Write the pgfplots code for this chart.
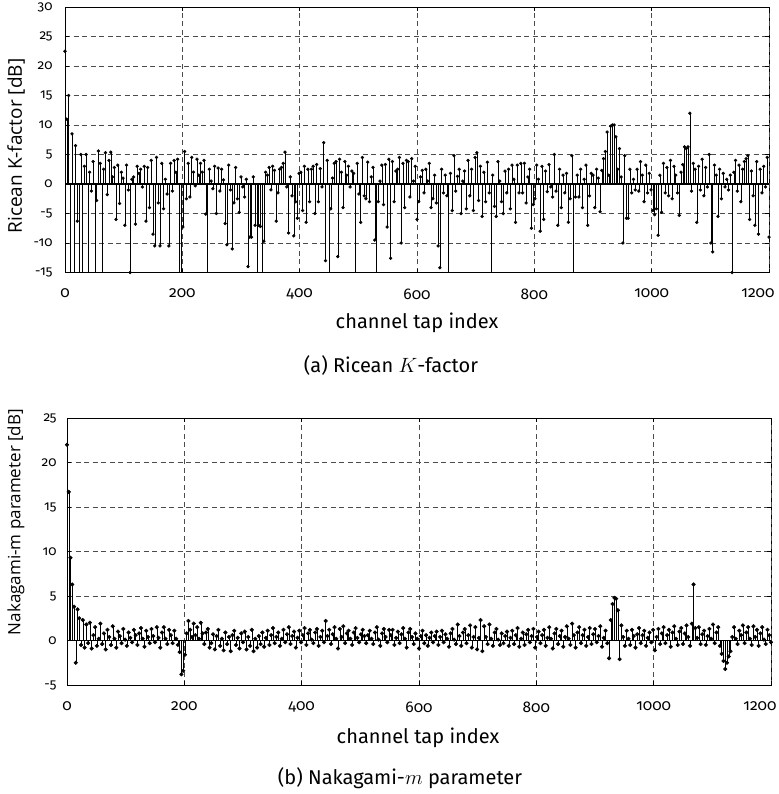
\documentclass[border=0pt]{standalone}
\usepackage{fontspec}
\setmainfont{Fira Sans}
\newfontfamily\tickfont{Fira Sans}[Numbers=OldStyle]
\newfontfamily\labfont{Open Sans}
\usepackage{pgfplots}
\pgfplotsset{compat=1.18}
\usepackage{pgfplotstable}

\pgfplotstableread[row sep=\\]{
y\\
22.5\\ 11\\ 15\\ -20\\ 8.5\\ -20\\ 6.5\\ -6.3\\ -20\\ 5\\
-20\\ 3\\ 5\\ -20\\ 2\\ -1.2\\ 3.8\\ -20\\ -2.8\\ 5.6\\
3.5\\ -20\\ 2.5\\ 5.3\\ -1.8\\ 4\\ 5.4\\ 1.2\\ 2.8\\ -6\\
3.2\\ -3.3\\ 2\\ 1\\ -7\\ 3.2\\ -1\\ -15\\ 0.8\\ 1.2\\
-6.8\\ 3\\ 1.8\\ 2.5\\ -0.5\\ 3\\ -6.3\\ 2.8\\ -4\\ 4\\
-8.5\\ -10.5\\ 4.5\\ -3.2\\ -10.5\\ 3.5\\ -4.2\\ 0.8\\ -1.7\\ -10.5\\
3.5\\ -1.2\\ 4\\ 2\\ 4.2\\ -20\\ -20\\ -7.3\\ 5.5\\ -2.5\\
3.5\\ -2.2\\ 4.5\\ 2\\ -0.3\\ 4.2\\ 1.5\\ 3.5\\ 2\\ 4\\
-5.1\\ -20\\ 2.5\\ 0.5\\ -0.8\\ 3\\ -5\\ 2.7\\ -1.2\\ 2.5\\
0.7\\ -6.7\\ -10.3\\ 3.2\\ -1\\ -11\\ -3.2\\ 2.8\\ -2.5\\ -4.8\\
1.2\\ -0.5\\ -2.2\\ 0.8\\ -14\\ -9\\ -9\\ 1.2\\ -7\\ -20\\
-7\\ -7.2\\ -20\\ -9.7\\ 2\\ 1.5\\ 2.8\\ -1\\ 3\\ 2.3\\
-6.3\\ -1.5\\ 2.5\\ 2.8\\ 3.5\\ 5.4\\ -0.5\\ -8.3\\ 1.2\\ -2\\
-8.8\\ -3\\ -5.8\\ 1.8\\ 2\\ -4.5\\ 3\\ -6.5\\ 2.5\\ -3\\
2.5\\ 3\\ -5\\ 3.3\\ -3\\ 2.6\\ -0.5\\ 7\\ -13\\ 4\\
-20\\ -4.2\\ 1\\ 3.5\\ 3.8\\ -12.3\\ 4.2\\ 2\\ -4\\ 3.8\\
1.5\\ 3\\ -0.5\\ 2.2\\ 1.8\\ -20\\ 3.5\\ -1.7\\ -6.5\\ 4.5\\
-2\\ -2.5\\ 3.7\\ -3\\ 1.2\\ 2.8\\ -9.5\\ -20\\ -3\\ 0.5\\
3.2\\ -3.5\\ 3.3\\ -7.3\\ 4.2\\ -12.6\\ 3.8\\ -3\\ 2.2\\ 2.5\\
4.5\\ -10\\ 3.5\\ -4\\ 4\\ 3.8\\ -2.2\\ 4.3\\ 0.5\\ 3\\
-6\\ -3\\ 1.2\\ 2.3\\ -1.5\\ 2.5\\ 0.5\\ 3.5\\ -4\\ -2.5\\
1.5\\ -3.2\\ -10.5\\ -14.2\\ 2.5\\ -1.5\\ 1.5\\ -2\\ -20\\ 1.8\\
-4.5\\ 4.8\\ -1.2\\ 1.3\\ 2.5\\ -5\\ 0.5\\ 2.2\\ -4.2\\ 4\\
-2\\ 2.5\\ -4.5\\ 4.5\\ 5.3\\ -2.8\\ 3\\ -5.5\\ 2\\ -3\\
3.7\\ -1.5\\ -20\\ 1.5\\ -3.8\\ -5.5\\ 3.8\\ 0.5\\ -3\\ -5\\
2.2\\ -1.5\\ 2.5\\ -4.2\\ 3.2\\ 0.8\\ -6.5\\ 3.2\\ -1.5\\ 3.5\\
-1.5\\ 3.5\\ -3.2\\ 1.2\\ 2.5\\ -7.5\\ -3.5\\ -2.5\\ 3.2\\ 0.8\\
-8\\ 3\\ -6\\ 2.2\\ -1.3\\ 3.3\\ -0.5\\ -2.2\\ 5\\ -1.2\\
-7\\ 2.5\\ -4\\ 1.5\\ -1.5\\ 1.8\\ -6.5\\ -2.5\\ 4.8\\ -20\\
-2.2\\ 1.5\\ -2.2\\ 2.5\\ -4\\ 0.8\\ 3.2\\ -7\\ -2\\ 1.8\\
1.5\\ -4\\ 2.5\\ 1\\ -4.7\\ 2.3\\ 4.3\\ 5.5\\ 8.8\\ 1.5\\
9.8\\ 10\\ 10\\ 8\\ 2.5\\ 6\\ 1.2\\ -10\\ 4.8\\ -5.8\\
-5.8\\ 2.5\\ -1.5\\ 0.8\\ -1\\ 2.5\\ -1.2\\ 3.8\\ 1.5\\ -3\\
3.2\\ -1.5\\ 1.8\\ -1\\ -4.5\\ -5.2\\ -4.2\\ -8.7\\ 1.5\\ -4.8\\
3.5\\ -1.5\\ 2.8\\ -2\\ 4\\ -2.5\\ 3\\ 1.5\\ -1.5\\ -5.3\\
2\\ 3.3\\ 6.3\\ 6\\ 6.3\\ 12\\ -1.2\\ 3.5\\ 2.5\\ -6.5\\
3\\ -1\\ 4.2\\ -2\\ 2.8\\ -0.5\\ 5\\ -10\\ -11.5\\ 3.2\\
1.5\\ -5.5\\ 2.5\\ -2.5\\ 1.8\\ -0.5\\ 0.8\\ -1\\ 1.5\\ -15\\
2\\ 4\\ -1.2\\ 3.2\\ -3\\ 2.5\\ 3.8\\ 4.3\\ 4.8\\ -6\\
2.2\\ -2\\ -7\\ 3.8\\ -8.5\\ 2.5\\ -1.5\\ 3\\ -0.5\\ 4.5\\
-9\\
}\ricean

\pgfplotstableread[row sep=\\]{
y\\
22\\ 16.7\\ 9.3\\ 6.3\\ 3.8\\ -2.5\\ 3.5\\ 2.5\\ -0.5\\ 2.3\\
-0.8\\ 1.8\\ -0.3\\ 2\\ -0.9\\ 0.6\\ 1.5\\ -0.6\\ 0.2\\ 1.9\\
-0.4\\ 0.8\\ -1\\ 1.2\\ 0.4\\ -0.5\\ 1.6\\ 0.2\\ -0.8\\ 1\\
0.5\\ -0.3\\ 1.3\\ 0.1\\ -0.6\\ 0.9\\ 0.3\\ -0.2\\ 1.2\\ 0.6\\
-0.5\\ 0.8\\ 1.4\\ 0.2\\ -0.7\\ 1.1\\ 0.4\\ -0.3\\ 1.3\\ 0.5\\
-0.2\\ 1.5\\ 0.3\\ -0.8\\ 0.9\\ 1.5\\ 0.2\\ -0.4\\ 1.2\\ 0.6\\
-0.3\\ 1.1\\ 0.2\\ -0.5\\ -1.3\\ -3.8\\ -3.4\\ -1.6\\ 0.8\\ 2.2\\
1.2\\ 0.4\\ 1.9\\ 0.6\\ 1.5\\ 0.2\\ 2\\ 0.8\\ -0.4\\ 0.9\\
1.3\\ -0.8\\ -0.3\\ 0.7\\ -1\\ 0.5\\ 1.2\\ -0.6\\ 0.2\\ -1.1\\
0.9\\ -0.4\\ 0.4\\ -1.2\\ 0.6\\ 1.1\\ -0.5\\ 0.3\\ -0.9\\ 0.8\\
-0.2\\ 1\\ -1\\ 0.4\\ -0.6\\ 1.2\\ -1.2\\ 0.2\\ -0.8\\ 0.5\\
-0.4\\ 0.9\\ -0.7\\ 0.3\\ 1.1\\ -0.5\\ 0.6\\ 1.4\\ -0.3\\ 0.4\\
0.9\\ -0.6\\ 0.2\\ 1.2\\ -0.2\\ 0.7\\ 1.5\\ -0.4\\ 0.5\\ 1\\
-0.8\\ 0.3\\ 1.1\\ -0.2\\ 0.6\\ 1.4\\ -0.5\\ 0.8\\ 1.2\\ 0.1\\
-0.3\\ 0.9\\ 1.3\\ -0.6\\ 0.4\\ 1.1\\ -0.2\\ 2.2\\ 0.5\\ 1.2\\
-0.4\\ 0.7\\ 1.5\\ 0.2\\ -0.9\\ 1.3\\ 0.4\\ 1.6\\ -0.3\\ 0.8\\
1.1\\ 0.2\\ -0.5\\ 0.9\\ 1.4\\ 0.3\\ -0.2\\ 0.7\\ 1.2\\ 0.5\\
-0.3\\ 0.6\\ 1.1\\ 0.2\\ -0.4\\ 0.9\\ 1.5\\ 0.1\\ -0.6\\ 0.8\\
1.3\\ 0.4\\ -0.2\\ 1.2\\ 0.6\\ 1.2\\ -0.5\\ 0.3\\ 1\\ -0.3\\
0.7\\ 1.4\\ 0.2\\ -0.8\\ 0.9\\ 1.3\\ 0.4\\ -0.4\\ 0.8\\ 0.2\\
-0.9\\ 0.5\\ 1.1\\ -0.3\\ 0.6\\ -0.6\\ 0.3\\ 0.9\\ -0.2\\ 0.5\\
1\\ -0.5\\ 0.4\\ 1.1\\ -0.2\\ 0.7\\ 0.2\\ -0.7\\ 0.8\\ 1.3\\
0.1\\ -0.4\\ 1.8\\ 0.5\\ -0.6\\ 0.9\\ 1.3\\ -0.3\\ 0.6\\ 1.7\\
-0.8\\ 0.4\\ 1.5\\ -1\\ 0.3\\ 2.3\\ -1.2\\ 1.6\\ 0.4\\ -0.4\\
1.8\\ 0.2\\ -0.6\\ 0.9\\ 1.3\\ 0.1\\ -0.5\\ 0.8\\ -0.3\\ 0.5\\
1\\ -0.6\\ 0.3\\ 1.1\\ -0.4\\ 0.6\\ 1.4\\ -0.7\\ 0.2\\ 0.9\\
-0.5\\ 0.7\\ 1.2\\ -0.2\\ 0.5\\ 1.3\\ -0.8\\ 0.4\\ 1\\ -0.3\\
0.6\\ 1.2\\ -0.6\\ 0.3\\ 1.5\\ 0.2\\ -0.9\\ 0.8\\ 1.3\\ -0.4\\
0.5\\ 1.1\\ -0.7\\ 0.4\\ 1.6\\ 0.2\\ -0.5\\ 1.9\\ 0.6\\ -0.8\\
0.9\\ 1.5\\ -0.3\\ 0.6\\ 1.2\\ -0.6\\ 0.4\\ 1.4\\ -0.4\\ 0.7\\
1.3\\ -0.2\\ 0.5\\ 1.6\\ -0.7\\ 0.3\\ 1.1\\ -0.3\\ -2\\ 2.3\\
4.1\\ 4.8\\ 4.7\\ 3.4\\ -2.1\\ 1.7\\ 0.4\\ -0.6\\ 1.1\\ 0.2\\
-0.5\\ 1.2\\ 0.5\\ -0.8\\ 0.7\\ 1.4\\ -0.3\\ 0.6\\ 1.1\\ -0.6\\
0.3\\ 0.9\\ -0.2\\ 1.2\\ -1.1\\ 0.4\\ 1.3\\ -0.4\\ 0.8\\ 1.5\\
-0.3\\ 0.6\\ 1.2\\ -0.7\\ 0.9\\ 1.6\\ 0.2\\ -0.5\\ 1\\ 1.4\\
-0.4\\ 0.8\\ 1.7\\ 0.4\\ -0.6\\ 1.9\\ 6.3\\ 1.4\\ 0.3\\ 1.5\\
-0.4\\ 0.7\\ 1.1\\ -0.5\\ 0.5\\ 1.3\\ 0.2\\ 1.8\\ -0.3\\ 0.9\\
1.5\\ -0.6\\ -1.5\\ -2.3\\ -3.2\\ -2.5\\ -1.8\\ -1.2\\ 0.4\\ 1.5\\
0.2\\ -0.4\\ 1.1\\ 0.6\\ 1.7\\ -0.3\\ 0.9\\ 1.5\\ 0.2\\ -0.5\\
1.6\\ 0.4\\ 1.2\\ -0.6\\ 0.8\\ 1.5\\ 0.1\\ -0.4\\ 1.2\\ 0.6\\
-0.2\\
}\nakagami

\pgfplotsset{
  stemaxis/.style={
    scale only axis, width=704bp, anchor=south west,
    xmin=0, xmax=1200,
    xtick={0,200,400,600,800,1000}, xticklabels={0,200,400,600,800,1000},
    extra x ticks={1200}, extra x tick labels={1200},
    extra x tick style={xticklabel style={xshift=-11bp}},
    grid=major,
    major grid style={black!70, line width=0.5bp, dash pattern=on 5bp off 3.5bp},
    axis line style={black, line width=0.7bp},
    tick style={black, line width=0.5bp},
    tick align=inside, major tick length=4bp,
    yticklabel style={font=\tickfont\fontsize{13.5bp}{14bp}\selectfont},
    xticklabel style={font=\tickfont\fontsize{15.5bp}{16bp}\selectfont, yshift=-13bp},
    clip=true,
  },
  stemplot/.style={black, line width=0.5bp, ycomb, mark=*,
    mark options={solid, fill=black, draw=black}},
}

\begin{document}
\begin{tikzpicture}
\path[use as bounding box] (0,0) rectangle (779bp,-794bp);

% (a) Ricean K-factor
\begin{axis}[stemaxis, at={(65bp,-272.5bp)}, height=265.5bp,
    ymin=-15, ymax=30, ytick={-15,-10,...,30},
    yticklabels={-15,-10,-5,0,5,10,15,20,25,30},
    yticklabel style={xshift=-9bp}]
  \addplot[black, line width=1.6bp, forget plot] coordinates {(0,0) (1200,0)};
  \addplot[stemplot, mark size=1.4bp] table[x expr=\coordindex*3, y=y] {\ricean};
\end{axis}
\node[rotate=90, font=\labfont\fontsize{19bp}{20bp}\selectfont] at (16bp,-146bp) {Ricean K-factor [dB]};
\node[font=\fontsize{20bp}{21bp}\selectfont] at (417bp,-323bp) {channel tap index};
\node[font=\fontsize{20bp}{21bp}\selectfont] at (391bp,-365bp) {(a) Ricean $K$-factor};

% (b) Nakagami-m parameter
\begin{axis}[stemaxis, at={(67bp,-685bp)}, height=267bp,
    ymin=-5, ymax=25, ytick={-5,0,...,25},
    yticklabels={-5,0,5,10,15,20,25},
    yticklabel style={xshift=-7bp}]
  \addplot[black, line width=1.2bp, forget plot] coordinates {(0,0) (1200,0)};
  \addplot[stemplot, mark size=1.8bp] table[x expr=\coordindex*3, y=y] {\nakagami};
\end{axis}
\node[rotate=90, font=\labfont\fontsize{17bp}{18bp}\selectfont] at (16bp,-522bp) {Nakagami-m parameter [dB]};
\node[font=\fontsize{20bp}{21bp}\selectfont] at (418bp,-738bp) {channel tap index};
\node[font=\fontsize{20bp}{21bp}\selectfont] at (400bp,-778bp) {(b) Nakagami-$m$ parameter};
\end{tikzpicture}
\end{document}
